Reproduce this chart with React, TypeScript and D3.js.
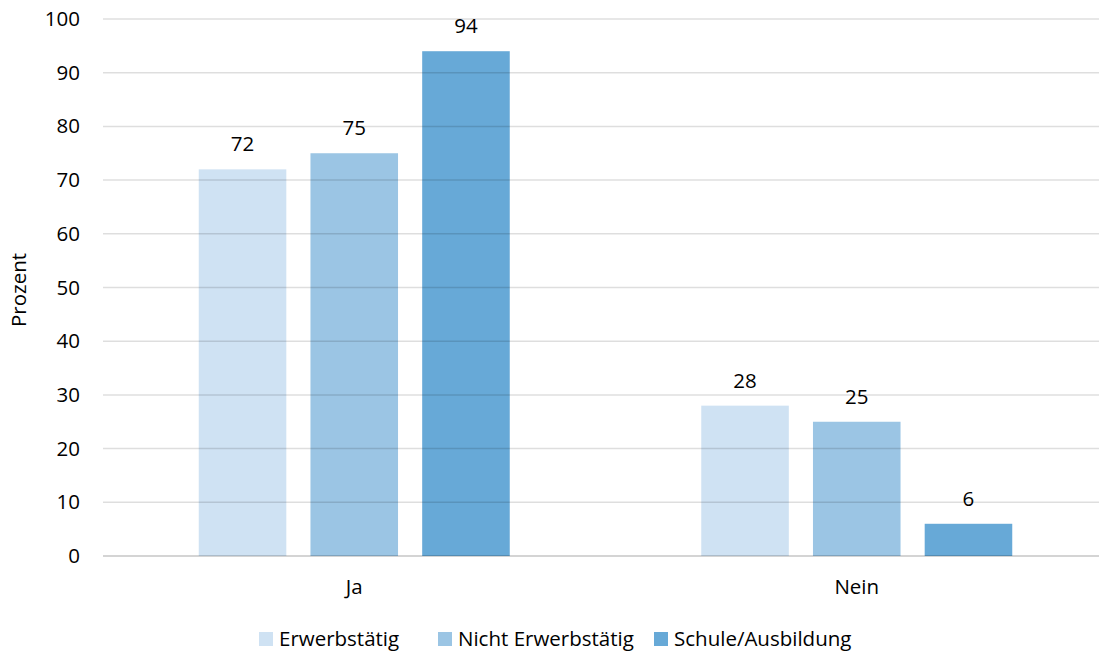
import React from "react";
import * as d3 from "d3";

const categories = ["Ja", "Nein"];
const seriesNames = ["Erwerbstätig", "Nicht Erwerbstätig", "Schule/Ausbildung"];
const erwerbstaetig = [72, 28];
const nichtErwerbstaetig = [75, 25];
const schuleAusbildung = [94, 6];
const yTicks = [0, 10, 20, 30, 40, 50, 60, 70, 80, 90, 100];
const colors = ["#CFE2F3", "#9BC5E4", "#67A9D7"];

const W = 1099;
const H = 653;
const FONT = "'Open Sans', 'Noto Sans', sans-serif";
const FS = 20.5;

export default function App() {
  const series = [erwerbstaetig, nichtErwerbstaetig, schuleAusbildung];
  const x = d3.scaleBand<string>().domain(categories).range([103, 1108]).padding(0);
  const y = d3.scaleLinear().domain([0, 100]).range([556, 19]);
  const groupWidth = 311;
  const inner = d3
    .scaleBand<string>()
    .domain(seriesNames)
    .range([0, groupWidth])
    .paddingInner(24 / 111)
    .paddingOuter(0);

  const legendX = [259, 438, 654];

  return (
    <svg
      width={W}
      height={H}
      style={{ position: "fixed", left: 0, top: 0, background: "#fff" }}
      fontFamily={FONT}
    >
      <rect width={W} height={H} fill="#fff" />
      {categories.map((c, ci) => {
        const cx = (x(c) as number) + x.bandwidth() / 2;
        const gx = cx - groupWidth / 2;
        return (
          <g key={c}>
            {series.map((s, si) => {
              const bx = gx + (inner(seriesNames[si]) as number);
              const v = s[ci];
              return (
                <g key={si}>
                  <rect
                    x={bx}
                    y={y(v)}
                    width={inner.bandwidth()}
                    height={y(0) - y(v)}
                    fill={colors[si]}
                  />
                  <text
                    x={bx + inner.bandwidth() / 2}
                    y={y(v) - 18}
                    textAnchor="middle"
                    fontSize={FS}
                    fill="#000"
                  >
                    {v}
                  </text>
                </g>
              );
            })}
            <text x={cx} y={594} textAnchor="middle" fontSize={FS} fill="#000">
              {c}
            </text>
          </g>
        );
      })}
      {yTicks.map((t) => (
        <g key={t}>
          <line
            x1={103}
            x2={W}
            y1={y(t)}
            y2={y(t)}
            stroke="#000"
            strokeOpacity={t === 0 ? 0.17 : 0.13}
            strokeWidth={t === 0 ? 2 : 1.5}
          />
          <text x={80} y={y(t) + 7} textAnchor="end" fontSize={FS} fill="#000">
            {t}
          </text>
        </g>
      ))}
      <text
        transform={`translate(26,290) rotate(-90)`}
        textAnchor="middle"
        fontSize={FS}
        fill="#000"
      >
        Prozent
      </text>
      {seriesNames.map((n, i) => (
        <g key={n}>
          <rect x={legendX[i]} y={632} width={14} height={14} fill={colors[i]} />
          <text x={legendX[i] + 20} y={646} fontSize={FS} fill="#000">
            {n}
          </text>
        </g>
      ))}
    </svg>
  );
}
